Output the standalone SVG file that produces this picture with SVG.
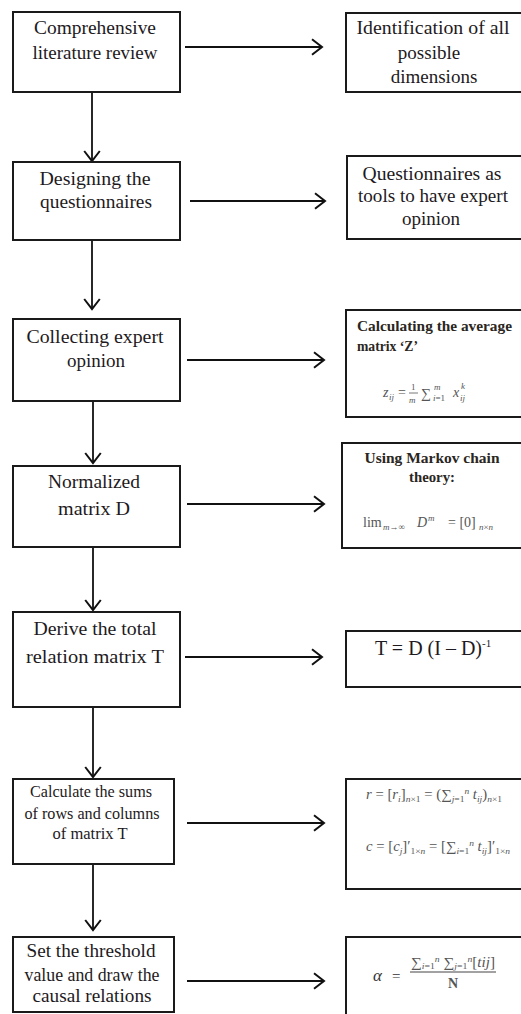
<svg xmlns="http://www.w3.org/2000/svg" width="521" height="1014" viewBox="0 0 521 1014">
<defs>
<marker id="ah" markerWidth="20" markerHeight="20" refX="0" refY="0" viewBox="-11 -9 13 18" orient="auto" markerUnits="userSpaceOnUse">
<path d="M-9,-7 L0,0 L-9,7" fill="none" stroke="#111" stroke-width="1.8"/>
</marker>
</defs>
<style>
.box{fill:#fff;stroke:#1a1a1a;stroke-width:2}
.t{font-family:"Liberation Serif","Times New Roman",serif;font-size:19px;fill:#1e1a22;text-anchor:middle}
.s{font-family:"Liberation Serif","Times New Roman",serif;font-size:16px;fill:#1e1a22;text-anchor:middle}
.sb{font-family:"Liberation Serif","Times New Roman",serif;font-size:15px;font-weight:bold;fill:#2a2622}
.f{font-family:"Liberation Serif","Times New Roman",serif;font-size:14px;fill:#555}
.fi{font-style:italic}
.sm{font-size:9px}
.c{stroke:#111;stroke-width:1.8;fill:none;marker-end:url(#ah)}
</style>
<rect width="521" height="1014" fill="#fff"/>
<g id="connectors">
<line class="c" x1="185" y1="47" x2="322" y2="47"/>
<line class="c" x1="190" y1="201" x2="325" y2="201"/>
<line class="c" x1="187" y1="360" x2="324" y2="360"/>
<line class="c" x1="187" y1="504" x2="324" y2="504"/>
<line class="c" x1="185" y1="657" x2="322" y2="657"/>
<line class="c" x1="187" y1="823" x2="324" y2="823"/>
<line class="c" x1="187" y1="981" x2="324" y2="981"/>
<line class="c" x1="92" y1="92" x2="92" y2="161"/>
<line class="c" x1="92" y1="240" x2="92" y2="309"/>
<line class="c" x1="93" y1="401" x2="93" y2="463"/>
<line class="c" x1="93" y1="547" x2="93" y2="610"/>
<line class="c" x1="93" y1="707" x2="93" y2="777"/>
<line class="c" x1="93" y1="864" x2="93" y2="930"/>
</g>
<g id="n1">
<rect class="box" x="13" y="12" width="167" height="80"/>
<text class="t" x="95" y="34" textLength="122" lengthAdjust="spacingAndGlyphs">Comprehensive</text>
<text class="t" x="95" y="59" textLength="125" lengthAdjust="spacingAndGlyphs">literature review</text>
</g>
<g id="r1">
<rect class="box" x="346" y="13" width="185" height="79"/>
<text class="t" x="433" y="34" textLength="153" lengthAdjust="spacingAndGlyphs">Identification of all</text>
<text class="t" x="429" y="59">possible</text>
<text class="t" x="434" y="83">dimensions</text>
</g>
<g id="n2">
<rect class="box" x="13" y="162" width="167" height="78"/>
<text class="t" x="95" y="185" textLength="111" lengthAdjust="spacingAndGlyphs">Designing the</text>
<text class="t" x="96" y="208" textLength="112" lengthAdjust="spacingAndGlyphs">questionnaires</text>
</g>
<g id="r2">
<rect class="box" x="347" y="156" width="185" height="83"/>
<text class="t" x="432" y="180" textLength="139" lengthAdjust="spacingAndGlyphs">Questionnaires as</text>
<text class="t" x="433" y="202" textLength="150" lengthAdjust="spacingAndGlyphs">tools to have expert</text>
<text class="t" x="431" y="225">opinion</text>
</g>
<g id="n3">
<rect class="box" x="13" y="319" width="167" height="82"/>
<text class="t" x="95" y="343" textLength="137" lengthAdjust="spacingAndGlyphs">Collecting expert</text>
<text class="t" x="96" y="367">opinion</text>
</g>
<g id="r3">
<rect class="box" x="346" y="310" width="185" height="107"/>
<text class="sb" x="357" y="331" textLength="155" lengthAdjust="spacingAndGlyphs">Calculating the average</text>
<text class="sb" x="357" y="351" textLength="61" lengthAdjust="spacingAndGlyphs">matrix ‘Z’</text>
<text class="f fi" x="383" y="397">z</text>
<text class="f sm fi" x="389" y="400">ij</text>
<text class="f" x="398" y="397">=</text>
<text class="f sm" x="411" y="390">1</text>
<line x1="409" y1="393" x2="418" y2="393" stroke="#555" stroke-width="0.8"/>
<text class="f sm fi" x="409" y="403">m</text>
<text class="f" x="421" y="398" font-size="16">∑</text>
<text class="f sm fi" x="434" y="390">m</text>
<text class="f sm" x="433" y="401"><tspan class="fi">i</tspan>=1</text>
<text class="f fi" x="453" y="397">x</text>
<text class="f sm fi" x="461" y="389">k</text>
<text class="f sm fi" x="460" y="401">ij</text>
</g>
<g id="n4">
<rect class="box" x="13" y="466" width="167" height="81"/>
<text class="t" x="94" y="488" textLength="92" lengthAdjust="spacingAndGlyphs">Normalized</text>
<text class="t" x="94" y="515" textLength="72" lengthAdjust="spacingAndGlyphs">matrix D</text>
</g>
<g id="r4">
<rect class="box" x="342" y="443" width="189" height="105"/>
<text class="sb" x="432" y="463" text-anchor="middle" textLength="135" lengthAdjust="spacingAndGlyphs">Using Markov chain</text>
<text class="sb" x="432" y="482" text-anchor="middle" textLength="46" lengthAdjust="spacingAndGlyphs">theory:</text>
<text class="f" x="363" y="527">lim</text>
<text class="f sm" x="383" y="530"><tspan class="fi">m</tspan>→∞</text>
<text class="f fi" x="417" y="527">D</text>
<text class="f sm fi" x="428" y="521">m</text>
<text class="f" x="448" y="527">= [0]</text>
<text class="f sm" x="479" y="530"><tspan class="fi">n</tspan>×<tspan class="fi">n</tspan></text>
</g>
<g id="n5">
<rect class="box" x="13" y="612" width="167" height="95"/>
<text class="t" x="95" y="635" textLength="123" lengthAdjust="spacingAndGlyphs">Derive the total</text>
<text class="t" x="95" y="663" textLength="138" lengthAdjust="spacingAndGlyphs">relation matrix T</text>
</g>
<g id="r5">
<rect class="box" x="346" y="631" width="185" height="56"/>
<text x="375" y="655" font-family="Liberation Serif, Times New Roman, serif" font-size="20" fill="#1e1a22">T = D (I – D)<tspan font-size="11" dy="-8">-1</tspan></text>
</g>
<g id="n6">
<rect class="box" x="13" y="779" width="161" height="85"/>
<text class="s" x="91" y="797" textLength="122" lengthAdjust="spacingAndGlyphs">Calculate the sums</text>
<text class="s" x="92" y="819" textLength="135" lengthAdjust="spacingAndGlyphs">of rows and columns</text>
<text class="s" x="90" y="839" textLength="75" lengthAdjust="spacingAndGlyphs">of matrix T</text>
</g>
<g id="r6">
<rect class="box" x="346" y="779" width="185" height="110"/>
<text class="f" x="366" y="799" font-size="12" textLength="136" lengthAdjust="spacingAndGlyphs"><tspan class="fi">r</tspan> = [<tspan class="fi">r</tspan><tspan class="sm fi" dy="3">i</tspan><tspan dy="-3">]</tspan><tspan class="sm" dy="3"><tspan class="fi">n</tspan>×1</tspan><tspan dy="-3"> = (∑</tspan><tspan class="sm" dy="3"><tspan class="fi">j</tspan>=1</tspan><tspan class="sm fi" dy="-8">n</tspan><tspan class="fi" dy="5"> t</tspan><tspan class="sm fi" dy="3">ij</tspan><tspan dy="-3">)</tspan><tspan class="sm" dy="3"><tspan class="fi">n</tspan>×1</tspan></text>
<text class="f" x="366" y="851" font-size="12" textLength="144" lengthAdjust="spacingAndGlyphs"><tspan class="fi">c</tspan> = [<tspan class="fi">c</tspan><tspan class="sm fi" dy="3">j</tspan><tspan dy="-3">]′</tspan><tspan class="sm" dy="3">1×<tspan class="fi">n</tspan></tspan><tspan dy="-3"> = [∑</tspan><tspan class="sm" dy="3"><tspan class="fi">i</tspan>=1</tspan><tspan class="sm fi" dy="-8">n</tspan><tspan class="fi" dy="5"> t</tspan><tspan class="sm fi" dy="3">ij</tspan><tspan dy="-3">]′</tspan><tspan class="sm" dy="3">1×<tspan class="fi">n</tspan></tspan></text>
</g>
<g id="n7">
<rect class="box" x="13" y="937" width="161" height="75"/>
<text class="t" x="91" y="957" font-size="18" textLength="129" lengthAdjust="spacingAndGlyphs">Set the threshold</text>
<text class="t" x="92" y="981" font-size="18" textLength="135" lengthAdjust="spacingAndGlyphs">value and draw the</text>
<text class="t" x="92" y="1002" font-size="18" textLength="119" lengthAdjust="spacingAndGlyphs">causal relations</text>
</g>
<g id="r7">
<rect class="box" x="346" y="937" width="185" height="90"/>
<text x="373" y="981" font-family="Liberation Serif, Times New Roman, serif" font-size="17" font-style="italic" fill="#333">α</text>
<text x="392" y="981" font-family="Liberation Serif, Times New Roman, serif" font-size="15" fill="#333">=</text>
<text class="f" x="411" y="967" font-size="11" textLength="84" lengthAdjust="spacingAndGlyphs">∑<tspan class="sm" dy="2" font-size="7"><tspan class="fi">i</tspan>=1</tspan><tspan class="sm fi" dy="-7" font-size="7">n</tspan><tspan dy="5"> ∑</tspan><tspan class="sm" dy="2" font-size="7"><tspan class="fi">j</tspan>=1</tspan><tspan class="sm fi" dy="-7" font-size="7">n</tspan><tspan dy="5">[<tspan class="fi">tij</tspan>]</tspan></text>
<line x1="410" y1="972" x2="496" y2="972" stroke="#444" stroke-width="1"/>
<text class="f" x="453" y="988" font-size="11" text-anchor="middle" font-weight="bold">N</text>
</g>
</svg>
